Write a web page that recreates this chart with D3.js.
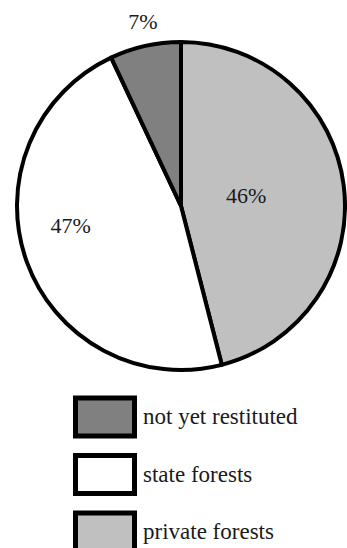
<!DOCTYPE html>
<html>
<head>
<meta charset="utf-8">
<script src="https://cdn.jsdelivr.net/npm/d3@7"></script>
<style>
  body { margin: 0; background: #fff; }
</style>
</head>
<body>
<div id="chart"></div>
<script>
// data, clockwise from 12 o'clock
let categories = ["private forests", "state forests", "not yet restituted"];
let values = [46, 47, 7];
let colors = ["#c0c0c0", "#ffffff", "#808080"];
// legend is listed in a different order
let legendOrder = ["not yet restituted", "state forests", "private forests"];

let width = 347,
height = 548;

let cx = 181, cy = 206, radius = 164;
let font = "'Liberation Serif', 'Times New Roman', Times, 'DejaVu Serif', serif";

let svg = d3.select("#chart")
.append("svg")
.attr("width", width)
.attr("height", height)
.style("font-family", font);

let pie = d3.pie()
.sort(null)
.value(d => d.value);

let data = categories.map((c, i) => ({ name: c, value: values[i], color: colors[i] }));
let arcs = pie(data);

let arc = d3.arc()
.innerRadius(0)
.outerRadius(radius);

let g = svg.append("g")
.attr("transform", "translate(" + cx + "," + cy + ")");

g.selectAll("path")
.data(arcs)
.enter().append("path")
.attr("d", arc)
.attr("fill", d => d.data.color)
.attr("stroke", "#000")
.attr("stroke-width", 4)
.attr("stroke-linejoin", "round");

// label placement: radius and small angle shift (degrees) per slice
let labelPos = [{ r: 66, da: -2 }, { r: 112, da: 10 }, { r: 189, da: 1 }];

g.selectAll(".lbl")
.data(arcs)
.enter().append("text")
.classed("lbl", true)
.attr("transform", (d, i) => {
    let a = (d.startAngle + d.endAngle) / 2 + labelPos[i].da * Math.PI / 180;
    let x = Math.sin(a) * labelPos[i].r;
    let y = -Math.cos(a) * labelPos[i].r;
    return "translate(" + x + "," + y + ")";
})
.attr("text-anchor", "middle")
.attr("dy", "0.35em")
.attr("font-family", font)
.attr("font-size", 22)
.attr("fill", "#1a1a1a")
.text(d => d.data.value + "%");

// legend
let color = d3.scaleOrdinal().domain(categories).range(colors);
let legendY = d3.scalePoint().domain(legendOrder).range([417, 532]);

let legend = svg.append("g");

let item = legend.selectAll(".item")
.data(legendOrder)
.enter().append("g")
.classed("item", true)
.attr("transform", d => "translate(0," + legendY(d) + ")");

item.append("rect")
.attr("x", 75.5)
.attr("y", -19)
.attr("width", 59)
.attr("height", 38)
.attr("fill", d => color(d))
.attr("stroke", "#000")
.attr("stroke-width", 5);

item.append("text")
.attr("x", 143)
.attr("y", 7)
.attr("font-family", font)
.attr("font-size", 23)
.attr("fill", "#1a1a1a")
.text(d => d);
</script>
</body>
</html>
